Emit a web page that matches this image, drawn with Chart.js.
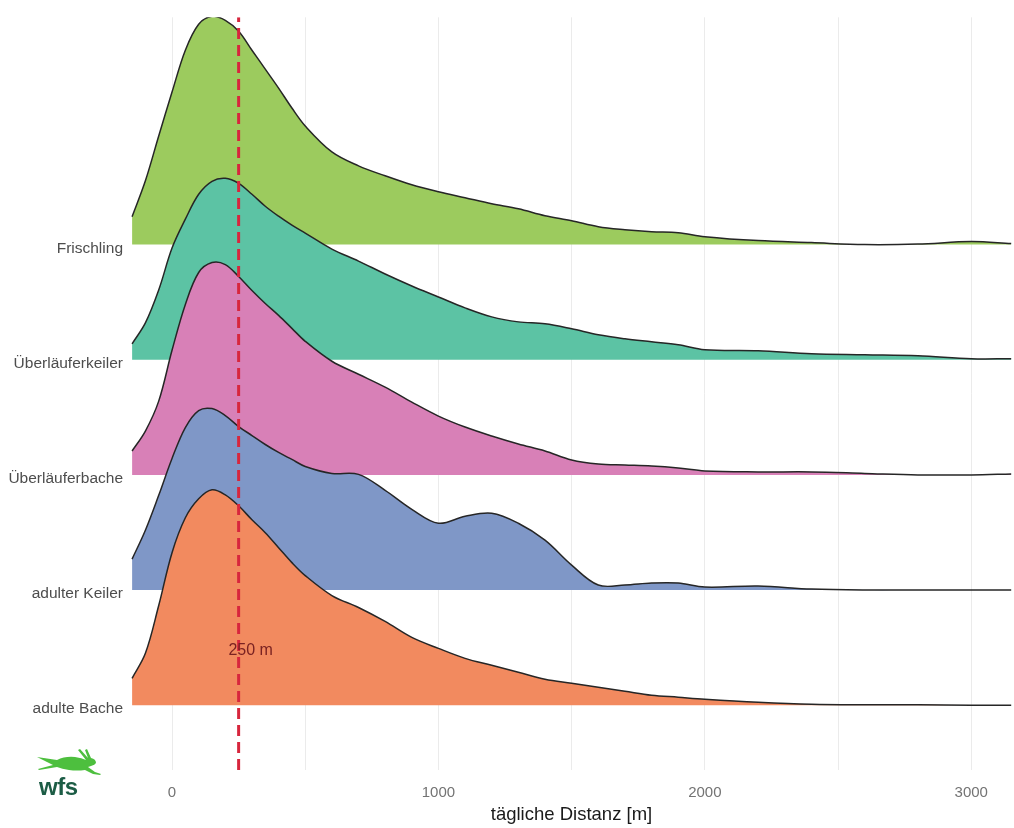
<!DOCTYPE html>
<html>
<head>
<meta charset="utf-8">
<script src="https://cdn.jsdelivr.net/npm/chart.js@4.4.1/dist/chart.umd.min.js"></script>
<style>
body{margin:0;background:#fff}
#wrap{position:relative;width:1014px;height:828px}
#hare{position:absolute;left:35px;top:748px}
#wfs{position:absolute;left:39px;top:775px;font:bold 24px/24px "Liberation Sans",Arial,sans-serif;color:#1c5c45;letter-spacing:-0.5px}
</style>
</head>
<body>
<div id="wrap">
<canvas id="myChart"></canvas>
<svg id="hare" width="68" height="30" viewBox="0 0 68 30">
<path fill="#4dbf3e" d="M2 9 L22 12 Q30 8 40 9 Q47 10 51 12 L43 2 L45 1 L53 10 L50 2 L52 1 L56 10 Q61 11 61 15 Q60 17 56 18 L53 19 L60 24 L66 26 L65 27 L58 26 L50 22 Q42 23 34 22 Q27 21 22 19 L4 22 L3 21 L18 17 L14 15 Z"/>
</svg>
<div id="wfs">wfs</div>
</div>
<script>
// daily distance grid (m) shared by all ridges
const distance = [-150,-100,-50,0,50,100,150,200,250,300,350,400,450,500,600,700,800,900,1000,1100,1200,1300,1400,1500,1600,1700,1800,1900,2000,2200,2400,2600,2800,3000,3150]

// ridge heights
const frischling = [28,64,109,153,195,221,229,225,214,195,176,157,137,119,93,79,69,60,53,47,41,36,29,24,18,15,13,12,8,4,2,0,0.5,3,1]
const ueberlaeuferkeiler = [16,37,70,112,141,166,179,182,177,166,154,144,135,127,111,99,86,74,63,52,43,38,36,31,25,21,18,15,10,9,6,5,4,1,1]
const ueberlaeuferbache = [24,44,74,125,171,203,213,211,199,185,172,160,147,134,114,101,88,73,59,48,39,31,24,15,11,10,9,7,4,3,3,1.5,0,0,1]
const adulterKeiler = [31,60,95,132,163,180,182,175,164,155,146,138,131,124,117,116,100,81,67,74,77,67,50,25,5,5,7,7,3,4,1,0,0,0,0]
const adulteBache = [27,52,100,153,188,207,216,211,200,186,173,158,143,130,110,98,84,68,57,47,40,33,26,22,18,14,10,8,6,3,1,0.5,0.5,0,0]

const groups = ['adulte Bache','adulter Keiler','Überläuferbache','Überläuferkeiler','Frischling']
const series = [adulteBache, adulterKeiler, ueberlaeuferbache, ueberlaeuferkeiler, frischling]
const colors = ['#f28a5f','#7f97c7','#d880b7','#5cc3a4','#9ccb5e']

const refDistance = 250
const refLabel = '250 m'
const xTicks = [0,500,1000,1500,2000,2500,3000]

const ROW = 115.5
const font = '"Liberation Sans", Arial, sans-serif'

const datasets = series.map((vals, i) => ({
    label: groups[i],
    data: distance.map((d, k) => ({x: d, y: i*ROW + vals[k]})),
    fill: {value: i*ROW},
    backgroundColor: colors[i],
    borderColor: '#262626',
    borderWidth: 1.5,
    pointRadius: 0,
    tension: 0.35,
    order: i + 1
}))

datasets.push({
    label: 'ref',
    data: [{x: refDistance, y: -65}, {x: refDistance, y: 690}],
    borderColor: '#d7263d',
    borderWidth: 3,
    borderDash: [11, 6],
    pointRadius: 0,
    fill: false,
    order: 0
})

const refText = {
    id: 'refText',
    afterDatasetsDraw(chart) {
        const {ctx, scales: {x, y}} = chart
        ctx.save()
        ctx.font = '16px ' + font
        ctx.fillStyle = '#7a2222'
        ctx.textAlign = 'center'
        ctx.textBaseline = 'middle'
        ctx.fillText(refLabel, x.getPixelForValue(295), y.getPixelForValue(55))
        ctx.restore()
    }
}

const ctx = document.getElementById('myChart')
new Chart(ctx, {
    type: 'line',
    data: {datasets},
    plugins: [refText],
    options: {
        responsive: true,
        maintainAspectRatio: false,
        animation: false,
        layout: {padding: {top: 15, right: 2, left: 0, bottom: 0}},
        plugins: {legend: {display: false}, tooltip: {enabled: false}},
        scales: {
            x: {
                type: 'linear',
                min: -154,
                max: 3153,
                afterBuildTicks: s => { s.ticks = xTicks.map(v => ({value: v})) },
                afterFit: s => { s.height = 58 },
                grid: {color: '#ebebeb', lineWidth: 1, drawTicks: false},
                border: {display: false},
                ticks: {
                    padding: 14,
                    color: '#737373',
                    font: {family: font, size: 15},
                    callback: v => v % 1000 === 0 ? String(v) : ''
                },
                title: {
                    display: true,
                    text: 'tägliche Distanz [m]',
                    color: '#1a1a1a',
                    font: {family: font, size: 18.5},
                    padding: {top: 0, bottom: 2}
                }
            },
            y: {
                type: 'linear',
                min: -65,
                max: 690,
                afterBuildTicks: s => { s.ticks = groups.map((g, i) => ({value: i*ROW})) },
                afterFit: s => { s.width = 131 },
                grid: {display: false, drawTicks: false},
                border: {display: false},
                ticks: {
                    padding: 8,
                    labelOffset: 4,
                    color: '#4d4d4d',
                    font: {family: font, size: 15.5},
                    callback: (v, i) => groups[i]
                }
            }
        }
    }
})
</script>
</body>
</html>
